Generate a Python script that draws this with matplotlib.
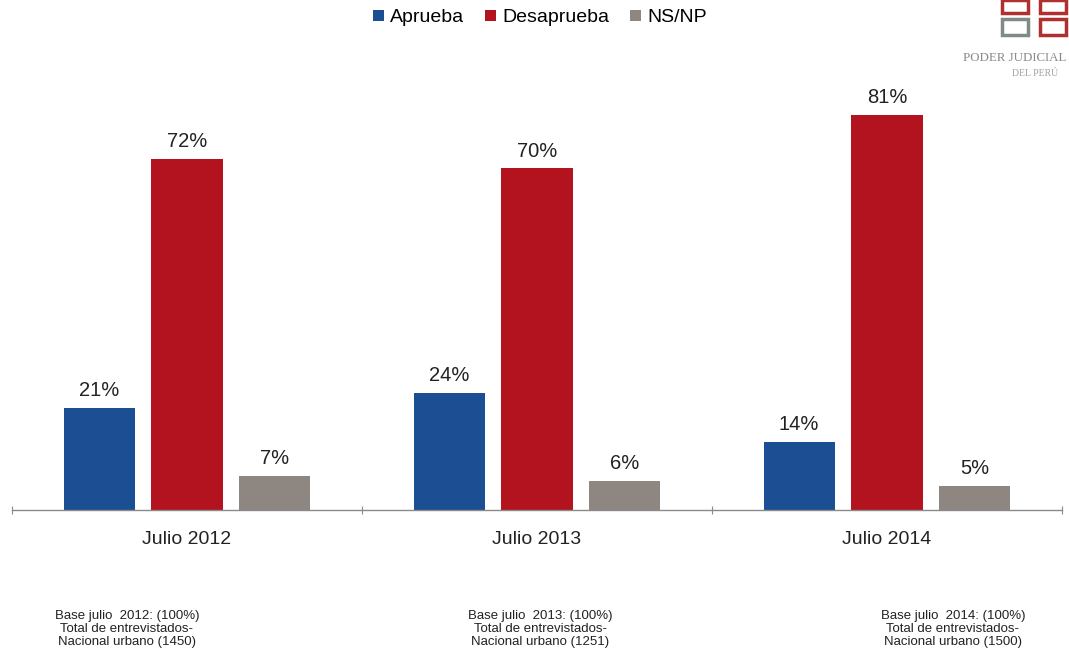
import matplotlib
matplotlib.use("Agg")
import matplotlib.pyplot as plt
from matplotlib.patches import Rectangle
import numpy as np

plt.rcParams['font.family'] = ['Liberation Sans', 'DejaVu Sans']

categories = ["Julio 2012", "Julio 2013", "Julio 2014"]
series_names = ["Aprueba", "Desaprueba", "NS/NP"]
aprueba = [21, 24, 14]
desaprueba = [72, 70, 81]
nsnp = [7, 6, 5]
colors = ["#1B4E93", "#B3121F", "#8E8681"]
footnotes = [
    "Base julio  2012: (100%)\nTotal de entrevistados-\nNacional urbano (1450)",
    "Base julio  2013: (100%)\nTotal de entrevistados-\nNacional urbano (1251)",
    "Base julio  2014: (100%)\nTotal de entrevistados-\nNacional urbano (1500)",
]

W, H = 1069, 661
fig = plt.figure(figsize=(W / 100, H / 100), dpi=100)
ax = fig.add_axes([12 / W, (H - 510) / H, 1050 / W, 488 / H])

x = np.arange(len(categories))
width = 0.203
offset = 0.251
for i, (vals, name) in enumerate(zip([aprueba, desaprueba, nsnp], series_names)):
    pos = x + (i - 1) * offset
    ax.bar(pos, vals, width, color=colors[i], label=name)
    for p, v in zip(pos, vals):
        ax.text(p, v + 1.6, f"{v}%", ha="center", va="bottom", fontsize=14.5, color="#222222")

ax.set_xlim(-0.5, 2.5)
ax.set_ylim(0, 100)
for s in ["top", "right", "left"]:
    ax.spines[s].set_visible(False)
ax.spines["bottom"].set_color("#8a8a8a")
ax.spines["bottom"].set_linewidth(1.0)
ax.set_yticks([])
ax.set_xticks([-0.5, 0.5, 1.5, 2.5])
ax.set_xticklabels([])
ax.set_xticks(x, minor=True)
ax.set_xticklabels(categories, minor=True, fontsize=14, color="#222222")
ax.tick_params(axis="x", which="major", length=6, direction="inout", color="#8a8a8a")
ax.tick_params(axis="x", which="minor", length=0, pad=15)

fig.legend(loc="center", bbox_to_anchor=(540 / W, 1 - 18 / H), ncol=3, frameon=False,
           fontsize=14, handlelength=0.55, handleheight=0.55, handletextpad=0.3,
           columnspacing=1.1)

centers = [127, 540, 953]
for c, t in zip(centers, footnotes):
    fig.text(c / W, 1 - 629 / H, t, ha="center", va="center", multialignment="center",
             fontsize=9.5, color="#222222", linespacing=1.12,
             family=["Liberation Sans Narrow", "Liberation Sans", "DejaVu Sans"])

# partial logo at top right
logo_red = "#B03030"
logo_gray = "#7f8b85"
for (lx, ly, lw, lh, col) in [(1002, 0, 26, 13, logo_red), (1040, 0, 26, 13, logo_red),
                              (1002, 19, 26, 16, logo_gray), (1040, 19, 26, 16, logo_red)]:
    fig.patches.append(Rectangle((lx / W, 1 - (ly + lh) / H), lw / W, lh / H,
                                 transform=fig.transFigure, facecolor="none",
                                 edgecolor=col, linewidth=2.5))
fig.text(963 / W, 1 - 58 / H, "PODER JUDICIAL", fontsize=9.3, color="#8a8a8a",
         family=["Liberation Serif", "DejaVu Serif"], va="center", ha="left")
fig.text(1012 / W, 1 - 74 / H, "DEL PERÚ", fontsize=7, color="#a0a0a0",
         family=["Liberation Serif", "DejaVu Serif"], va="center", ha="left")

fig.savefig("out.png", dpi=100)
